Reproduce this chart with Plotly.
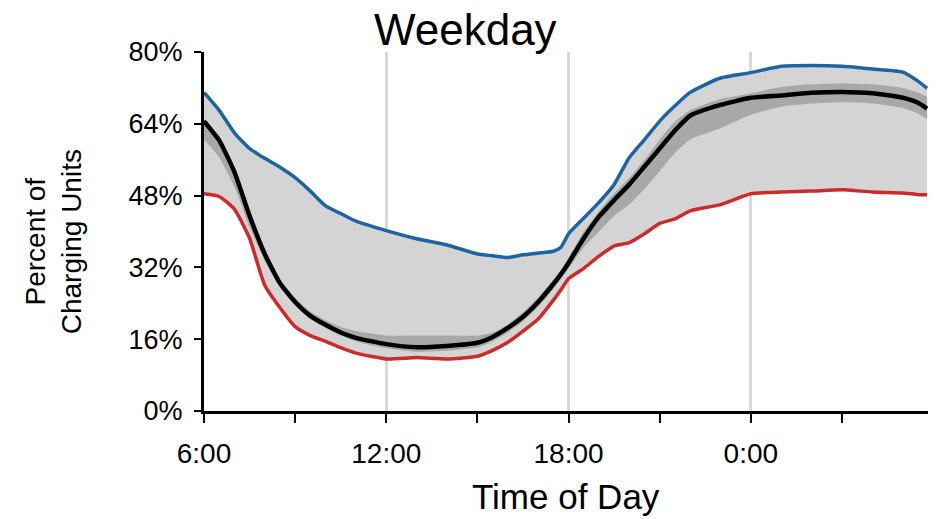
import plotly.graph_objects as go

# Hours after 6:00
hours = [0, 0.5, 1, 1.5, 2, 2.5, 3, 3.5, 4, 4.5, 5, 6, 7, 8, 9, 9.5, 10, 10.5, 11, 11.5, 11.75,
         12, 12.5, 13, 13.5, 14, 14.5, 15, 15.5, 16, 17, 18, 19, 20, 21, 22, 23, 23.5, 23.8]

upper = [71.0, 67.0, 62.0, 58.5, 56.3, 54.3, 52.0, 49.0, 45.7, 44.0, 42.3, 40.2, 38.4, 37.0, 35.0, 34.6, 34.2,
         34.8, 35.2, 35.6, 36.5, 39.5, 43.0, 46.5, 50.5, 56.5, 60.5, 64.6, 68.0, 71.0, 74.2, 75.4, 76.8,
         77.0, 76.8, 76.2, 75.5, 73.5, 71.9]

median = [64.6, 60.3, 53.3, 43.5, 35.0, 28.5, 24.3, 21.2, 19.2, 17.5, 16.3, 14.9, 14.2, 14.5, 15.2, 16.5, 18.5,
          21.0, 24.3, 28.3, 30.5, 33.0, 38.5, 43.3, 47.0, 50.5, 54.5, 58.5, 62.5, 65.8, 68.2, 69.8, 70.3,
          70.9, 71.1, 70.8, 69.8, 68.7, 67.4]

lower = [48.4, 47.8, 45.0, 38.5, 28.0, 23.0, 18.8, 16.8, 15.5, 14.1, 12.9, 11.6, 11.9, 11.6, 12.2, 13.5, 15.3,
         17.8, 20.5, 24.7, 27.0, 29.5, 31.8, 34.5, 36.8, 37.5, 39.5, 41.8, 42.8, 44.6, 46.0, 48.4, 48.8,
         49.0, 49.3, 48.8, 48.6, 48.2, 48.2]

band_lo = [60.5, 56.5, 50.0, 41.0, 33.5, 27.5, 23.5, 20.5, 18.5, 16.8, 15.5, 14.0, 13.2, 13.4, 14.2, 15.5, 17.5,
           20.0, 23.2, 27.2, 29.5, 31.8, 36.5, 40.0, 43.5, 46.0, 49.5, 53.5, 57.5, 60.5, 63.0, 66.0, 67.8,
           68.5, 68.8, 68.5, 67.5, 66.3, 65.0]

band_hi = [65.0, 60.8, 53.8, 44.0, 35.5, 29.3, 25.2, 22.2, 20.2, 18.7, 17.8, 16.8, 16.8, 16.8, 16.8, 17.5, 19.3,
           22.0, 25.3, 29.3, 31.5, 34.2, 40.0, 44.5, 48.5, 52.0, 56.0, 60.5, 64.5, 67.0, 69.5, 70.8, 72.2,
           72.8, 73.0, 72.8, 72.0, 71.0, 70.0]

x_tickvals = [0, 6, 12, 18]
x_ticktext = ["6:00", "12:00", "18:00", "0:00"]
y_tickvals = [0, 16, 32, 48, 64, 80]
y_ticktext = ["0%", "16%", "32%", "48%", "64%", "80%"]

BLUE = "#1c64a4"
RED = "#cf2a2a"
FONT = "Liberation Sans"
shape = dict(shape="spline", smoothing=0.5)

fig = go.Figure()
fig.add_trace(go.Scatter(x=hours, y=lower, mode="lines", line=dict(width=0, **shape),
                         hoverinfo="skip", showlegend=False))
fig.add_trace(go.Scatter(x=hours, y=upper, mode="lines", line=dict(width=0, **shape),
                         fill="tonexty", fillcolor="#d4d4d4", hoverinfo="skip", showlegend=False))
fig.add_trace(go.Scatter(x=hours, y=band_lo, mode="lines", line=dict(width=0, **shape),
                         hoverinfo="skip", showlegend=False))
fig.add_trace(go.Scatter(x=hours, y=band_hi, mode="lines", line=dict(width=0, **shape),
                         fill="tonexty", fillcolor="#a8a8a8", hoverinfo="skip", showlegend=False))
fig.add_trace(go.Scatter(x=hours, y=upper, mode="lines", line=dict(color=BLUE, width=3.5, **shape),
                         showlegend=False))
fig.add_trace(go.Scatter(x=hours, y=lower, mode="lines", line=dict(color=RED, width=3.5, **shape),
                         showlegend=False))
fig.add_trace(go.Scatter(x=hours, y=median, mode="lines", line=dict(color="black", width=4.5, **shape),
                         showlegend=False))

fig.update_layout(
    width=939, height=519,
    margin=dict(l=204, r=11, t=52, b=108),
    paper_bgcolor="white", plot_bgcolor="white",
    font=dict(family=FONT, color="black"),
    xaxis=dict(range=[0, 23.83], tickmode="array", tickvals=x_tickvals, ticktext=x_ticktext,
               showgrid=True, gridcolor="#d9d9d9", gridwidth=3, zeroline=False,
               showline=True, linecolor="black", linewidth=3,
               ticks="outside", ticklen=9, tickwidth=1.5, tickcolor="black",
               tickfont=dict(size=28, family=FONT), ticklabelstandoff=6,
               minor=dict(tickmode="linear", tick0=0, dtick=3, ticks="outside", ticklen=9,
                          tickwidth=1.5, tickcolor="black", showgrid=False)),
    yaxis=dict(range=[0, 80], tickmode="array", tickvals=y_tickvals, ticktext=y_ticktext,
               showgrid=False, zeroline=False,
               showline=True, linecolor="black", linewidth=3,
               ticks="outside", ticklen=7, tickwidth=1.5, tickcolor="black",
               tickfont=dict(size=27, family=FONT), ticklabelstandoff=6),
    annotations=[
        dict(text="Weekday", xref="paper", yref="paper", x=0.3605, y=1.0, yshift=-4,
             xanchor="center", yanchor="bottom", showarrow=False, font=dict(size=44, family=FONT)),
        dict(text="Time of Day", xref="paper", yref="paper", x=0.5, y=0, yshift=-64,
             xanchor="center", yanchor="top", showarrow=False, font=dict(size=35, family=FONT)),
        dict(text="Percent of<br>Charging Units", xref="paper", yref="paper", x=0, y=0.47,
             xshift=-151, xanchor="center", yanchor="middle", textangle=-90, showarrow=False,
             font=dict(size=28, family=FONT)),
    ],
)
fig.write_html("out.html")
